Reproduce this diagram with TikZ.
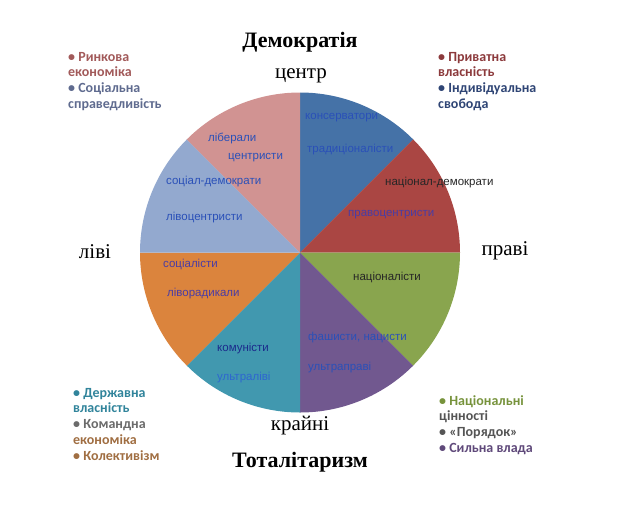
\documentclass[tikz,border=0pt]{standalone}
\usepackage{fontspec}
\setmainfont{Liberation Serif}
\newfontfamily\arialf{Liberation Sans}
\newfontfamily\calib{Carlito}
\definecolor{sBlue}{HTML}{4572A7}
\definecolor{sRed}{HTML}{AA4643}
\definecolor{sGreen}{HTML}{89A54E}
\definecolor{sPurple}{HTML}{71588F}
\definecolor{sTeal}{HTML}{4198AF}
\definecolor{sOrange}{HTML}{DB843D}
\definecolor{sLBlue}{HTML}{93A9CF}
\definecolor{sPink}{HTML}{D19392}
\definecolor{tBlue}{HTML}{2A50B8}
\definecolor{tPurp}{HTML}{4A3CA4}
\definecolor{tNavy}{HTML}{1C2A8C}
\definecolor{tDark}{HTML}{262626}
\definecolor{tSky}{HTML}{2E66D0}
\definecolor{bRose}{HTML}{A25A5A}
\definecolor{bSlate}{HTML}{5F6B8F}
\definecolor{bMaroon}{HTML}{8C3A3C}
\definecolor{bNavy}{HTML}{2F4575}
\definecolor{bTeal}{HTML}{31849B}
\definecolor{bGray}{HTML}{6B6B6B}
\definecolor{bBrown}{HTML}{A06E42}
\definecolor{bOlive}{HTML}{77933C}
\definecolor{bDGray}{HTML}{555555}
\definecolor{bViolet}{HTML}{5F497A}
\begin{document}
\begin{tikzpicture}[x=1pt,y=1pt,
  lab/.style={font=\arialf\fontsize{11.5}{13}\selectfont, anchor=west, inner sep=0pt},
  axis/.style={font=\fontsize{21}{25}\selectfont, inner sep=0pt},
  head/.style={font=\bfseries\fontsize{22}{26}\selectfont, inner sep=0pt},
  blist/.style={font=\calib\bfseries\fontsize{14}{15.7}\selectfont, align=left, anchor=north west, inner sep=0pt}]
\useasboundingbox (0,-512) rectangle (640,0);
\coordinate (C) at (300,-252.5);
\def\R{160}
\fill[sBlue]   (C) -- ++(90:\R)   arc[start angle=90,  end angle=45,   radius=\R] -- cycle;
\fill[sRed]    (C) -- ++(45:\R)   arc[start angle=45,  end angle=0,    radius=\R] -- cycle;
\fill[sGreen]  (C) -- ++(0:\R)    arc[start angle=0,   end angle=-45,  radius=\R] -- cycle;
\fill[sPurple] (C) -- ++(-45:\R)  arc[start angle=-45, end angle=-90,  radius=\R] -- cycle;
\fill[sTeal]   (C) -- ++(-90:\R)  arc[start angle=-90, end angle=-135, radius=\R] -- cycle;
\fill[sOrange] (C) -- ++(-135:\R) arc[start angle=-135,end angle=-180, radius=\R] -- cycle;
\fill[sLBlue]  (C) -- ++(180:\R)  arc[start angle=180, end angle=135,  radius=\R] -- cycle;
\fill[sPink]   (C) -- ++(135:\R)  arc[start angle=135, end angle=90,   radius=\R] -- cycle;
% sector labels
\node[lab, text=tBlue] (kons) at (305,-118) {консерватори};
\node[lab, text=tBlue] (trad) at (307,-150) {традиціоналісти};
\node[lab, text=tDark] (nd) at (385,-183) {націонал-демократи};
\node[lab, text=tPurp] (prc) at (348,-215) {правоцентристи};
\node[lab, text=tDark] (nac) at (353,-277) {націоналісти};
\node[lab, text=tBlue] (fash) at (308,-338) {фашисти, нацисти};
\node[lab, text=tBlue] (ultp) at (308,-368) {ультраправі};
\node[lab, text=tNavy] (kom) at (217,-349) {комуністи};
\node[lab, text=tSky] (ultl) at (217,-378) {ультраліві};
\node[lab, text=tPurp] (soc) at (163,-264) {соціалісти};
\node[lab, text=tPurp] (lrad) at (167,-294) {ліворадикали};
\node[lab, text=tBlue] (sd) at (166,-182) {соціал-демократи};
\node[lab, text=tBlue] (lc) at (166,-218) {лівоцентристи};
\node[lab, text=tBlue] (lib) at (208,-138) {ліберали};
\node[lab, text=tBlue] (cen) at (228,-158) {центристи};
% axis labels
\node[head] (dem) at (300,-42) {Демократія};
\node[axis] (top) at (301,-76) {центр};
\node[axis] (left) at (95,-252) {ліві};
\node[axis] (right) at (505,-251) {праві};
\node[axis] (bot) at (300,-426) {крайні};
\node[head] (tot) at (300,-462) {Тоталітаризм};
% bullet lists
\node[blist] (tl) at (68,-52) {\textcolor{bRose}{• Ринкова}\\\textcolor{bRose}{економіка}\\\textcolor{bSlate}{• Соціальна}\\\textcolor{bSlate}{справедливість}};
\node[blist] (tr) at (438,-52) {\textcolor{bMaroon}{• Приватна}\\\textcolor{bMaroon}{власність}\\\textcolor{bNavy}{• Індивідуальна}\\\textcolor{bNavy}{свобода}};
\node[blist] (bl) at (73,-388) {\textcolor{bTeal}{• Державна}\\\textcolor{bTeal}{власність}\\\textcolor{bGray}{• Командна}\\\textcolor{bBrown}{економіка}\\\textcolor{bBrown}{• Колективізм}};
\node[blist] (br) at (439,-395) {\textcolor{bOlive}{• Національні}\\\textcolor{bDGray}{цінності}\\\textcolor{bDGray}{• «Порядок»}\\\textcolor{bViolet}{• Сильна влада}};
\end{tikzpicture}
\end{document}
